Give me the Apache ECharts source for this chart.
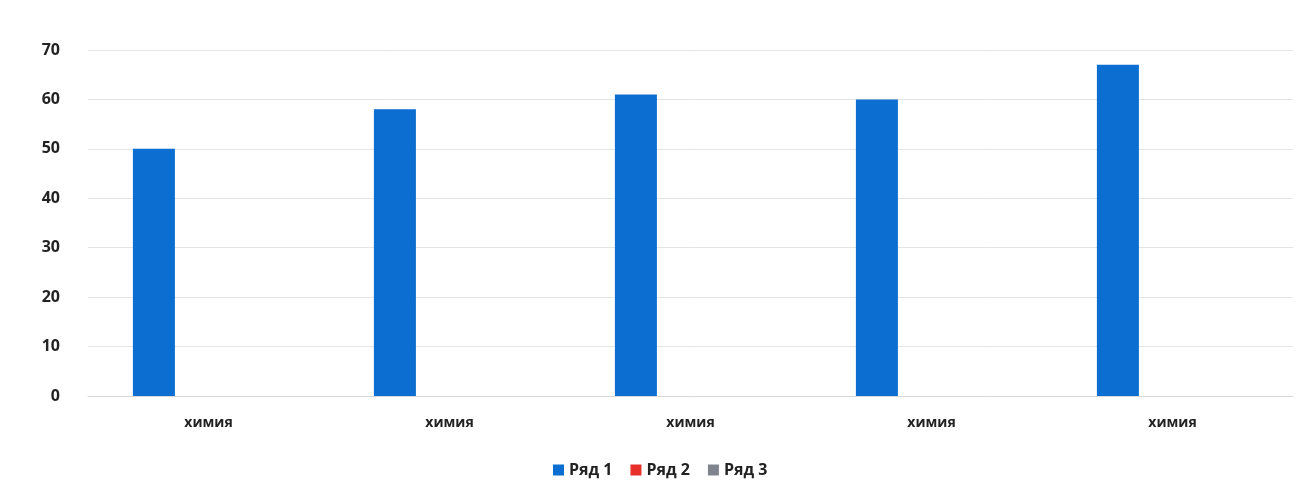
<!DOCTYPE html>
<html><head><meta charset="utf-8">
<script src="https://cdn.jsdelivr.net/npm/echarts@6/dist/echarts.min.js"></script>
<style>html,body{margin:0;padding:0;background:#fff}#c{width:1304px;height:497px}</style>
</head><body><div id="c"></div>
<script>
const categories = ['химия','химия','химия','химия','химия'];
const seriesNames = ['Ряд 1','Ряд 2','Ряд 3'];
const series1 = [50, 58, 61, 60, 67];
const series2 = [null, null, null, null, null];
const series3 = [null, null, null, null, null];
const yTicks = [0, 10, 20, 30, 40, 50, 60, 70];
const colors = ['#0b6ed0', '#e8302a', '#80848e'];

const chart = echarts.init(document.getElementById('c'));
const font = '"Open Sans", "Noto Sans", sans-serif';
chart.setOption({
  animation: false,
  color: colors,
  grid: { left: 88, right: 11, top: 50, bottom: 101 },
  legend: {
    bottom: 14, left: 548, itemWidth: 11, itemHeight: 11, itemGap: 18,
    icon: 'rect',
    textStyle: { fontFamily: font, fontWeight: 'bold', fontSize: 16, color: '#222' },
    data: seriesNames
  },
  xAxis: {
    type: 'category', data: categories,
    axisLine: { lineStyle: { color: '#d8d8d8' } }, axisTick: { show: false },
    axisLabel: { fontFamily: font, fontWeight: 'bold', fontSize: 14, color: '#222', margin: 20 }
  },
  yAxis: {
    type: 'value', min: yTicks[0], max: yTicks[yTicks.length-1], interval: 10,
    axisLine: { show: false }, axisTick: { show: false },
    axisLabel: { fontFamily: font, fontWeight: 'bold', fontSize: 16, color: '#222', margin: 28 },
    splitLine: { lineStyle: { color: '#e4e4e4' } }
  },
  series: [
    { name: seriesNames[0], type: 'bar', data: series1, barWidth: 42, barGap: '30%' },
    { name: seriesNames[1], type: 'bar', data: series2, barWidth: 42, barGap: '30%' },
    { name: seriesNames[2], type: 'bar', data: series3, barWidth: 42, barGap: '30%' }
  ]
});
</script></body></html>
